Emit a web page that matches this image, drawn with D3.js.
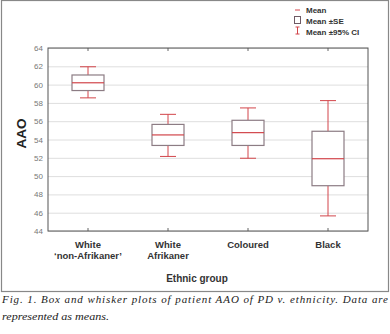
<!DOCTYPE html>
<html>
<head>
<meta charset="utf-8">
<script src="https://cdn.jsdelivr.net/npm/d3@7"></script>
<style>
  body { margin: 0; background: #fff; }
  svg { display: block; }
  .grid line { stroke: #dedede; stroke-width: 1; }
  .grid path { display: none; }
  .yaxis path { display: none; }
  .yaxis line { display: none; }
  .yaxis text { fill: #777; font-family: "Liberation Sans", Arial, sans-serif; font-size: 8px; }
  .xaxis path { display: none; }
  .xaxis line { stroke: #666; }
</style>
</head>
<body>
<div id="chart"></div>
<script>
// data
var groups = ["White|\u2018non-Afrikaner\u2019", "White|Afrikaner", "Coloured", "Black"];
var means = [60.2, 54.5, 54.75, 51.9];
var seLow = [59.35, 53.35, 53.35, 48.95];
var seHigh = [61.05, 55.65, 56.1, 54.9];
var ciLow = [58.55, 52.15, 51.95, 45.65];
var ciHigh = [61.95, 56.75, 57.45, 58.25];
var yTicks = [44, 46, 48, 50, 52, 54, 56, 58, 60, 62, 64];

var margin = { top: 48, right: 22, bottom: 103, left: 48 },
    width = 390 - margin.left - margin.right,
    height = 334 - margin.top - margin.bottom;

var boxColor = "#8c7c84";
var redColor = "#d2454a";
var labelFont = "'Liberation Sans', Arial, sans-serif";

var root = d3.select("#chart")
    .append("svg")
    .attr("width", 390)
    .attr("height", 334);

// outer frame of the figure
root.append("rect")
    .attr("x", 1.5)
    .attr("y", 0.5)
    .attr("width", 387)
    .attr("height", 291)
    .attr("fill", "none")
    .attr("stroke", "#888")
    .attr("stroke-width", 1.2);

var svg = root.append("g")
    .attr("transform", "translate(" + margin.left + "," + margin.top + ")");

var x = d3.scaleBand()
    .domain(groups)
    .range([0, width]);

var y = d3.scaleLinear()
    .domain([44, 64])
    .range([height, 0]);

// horizontal gridlines
svg.append("g")
    .attr("class", "grid")
    .call(d3.axisLeft(y)
        .tickValues(yTicks)
        .tickSize(-width)
        .tickFormat("")
    );

// y axis labels
svg.append("g")
    .attr("class", "yaxis")
    .call(d3.axisLeft(y).tickValues(yTicks).tickSize(0).tickPadding(5));

// small ticks at top and bottom of the plot
svg.append("g")
    .attr("class", "xaxis")
    .attr("transform", "translate(0," + height + ")")
    .call(d3.axisBottom(x).tickSize(-3).tickFormat(""));
svg.append("g")
    .attr("class", "xaxis")
    .call(d3.axisTop(x).tickSize(-3).tickFormat(""));

// plot frame
svg.append("rect")
    .attr("width", width)
    .attr("height", height)
    .attr("fill", "none")
    .attr("stroke", "#555")
    .attr("stroke-width", 1);

// category labels, one text per line
groups.forEach(function (g) {
    g.split("|").forEach(function (l, j) {
        svg.append("text")
            .attr("x", x(g) + x.bandwidth() / 2)
            .attr("y", height + 17 + j * 11)
            .attr("text-anchor", "middle")
            .attr("font-family", labelFont)
            .attr("font-size", "9.5px")
            .attr("font-weight", "bold")
            .attr("fill", "#333")
            .text(l);
    });
});

var boxW = x.bandwidth() * 0.4;
var capW = x.bandwidth() * 0.2;

var items = groups.map(function (g, i) {
    return { g: g, mean: means[i], seL: seLow[i], seH: seHigh[i], ciL: ciLow[i], ciH: ciHigh[i] };
});

var box = svg.selectAll(".boxgroup")
    .data(items)
    .enter()
    .append("g")
    .attr("class", "boxgroup")
    .attr("transform", function (d) { return "translate(" + (x(d.g) + x.bandwidth() / 2) + ",0)"; });

// whiskers
box.append("line")
    .attr("x1", 0).attr("x2", 0)
    .attr("y1", function (d) { return y(d.ciH); })
    .attr("y2", function (d) { return y(d.seH); })
    .attr("stroke", redColor);
box.append("line")
    .attr("x1", 0).attr("x2", 0)
    .attr("y1", function (d) { return y(d.seL); })
    .attr("y2", function (d) { return y(d.ciL); })
    .attr("stroke", redColor);
box.append("line")
    .attr("x1", -capW / 2).attr("x2", capW / 2)
    .attr("y1", function (d) { return y(d.ciH); })
    .attr("y2", function (d) { return y(d.ciH); })
    .attr("stroke", redColor);
box.append("line")
    .attr("x1", -capW / 2).attr("x2", capW / 2)
    .attr("y1", function (d) { return y(d.ciL); })
    .attr("y2", function (d) { return y(d.ciL); })
    .attr("stroke", redColor);

// SE boxes
box.append("rect")
    .attr("x", -boxW / 2)
    .attr("width", boxW)
    .attr("y", function (d) { return y(d.seH); })
    .attr("height", function (d) { return y(d.seL) - y(d.seH); })
    .attr("fill", "#fff")
    .attr("stroke", boxColor)
    .attr("stroke-width", 1.2);

// mean lines
box.append("line")
    .attr("x1", -boxW / 2).attr("x2", boxW / 2)
    .attr("y1", function (d) { return y(d.mean); })
    .attr("y2", function (d) { return y(d.mean); })
    .attr("stroke", redColor)
    .attr("stroke-width", 1.2);

// axis titles
svg.append("text")
    .attr("transform", "rotate(-90)")
    .attr("x", -height / 2 + 6)
    .attr("y", -22)
    .attr("text-anchor", "middle")
    .attr("font-family", labelFont)
    .attr("font-size", "13.5px")
    .attr("font-weight", "bold")
    .attr("fill", "#222")
    .text("AAO");

svg.append("text")
    .attr("x", width / 2 - 11)
    .attr("y", height + 51)
    .attr("text-anchor", "middle")
    .attr("font-family", labelFont)
    .attr("font-size", "10px")
    .attr("font-weight", "bold")
    .attr("fill", "#333")
    .text("Ethnic group");

// legend
var legend = root.append("g")
    .attr("transform", "translate(296,0)");
legend.append("line")
    .attr("x1", -1).attr("x2", 4).attr("y1", 10).attr("y2", 10)
    .attr("stroke", redColor);
legend.append("rect")
    .attr("x", -1.5).attr("y", 16.5).attr("width", 6).attr("height", 7)
    .attr("fill", "none").attr("stroke", "#6e5a64");
legend.append("line")
    .attr("x1", 1.5).attr("x2", 1.5).attr("y1", 27).attr("y2", 34)
    .attr("stroke", redColor);
legend.append("line")
    .attr("x1", -0.5).attr("x2", 3.5).attr("y1", 27).attr("y2", 27)
    .attr("stroke", redColor);
legend.append("line")
    .attr("x1", -0.5).attr("x2", 3.5).attr("y1", 34).attr("y2", 34)
    .attr("stroke", redColor);
["Mean", "Mean \u00b1SE", "Mean \u00b195% CI"].forEach(function (s, i) {
    legend.append("text")
        .attr("x", 10)
        .attr("y", 12.5 + i * 11)
        .attr("font-family", labelFont)
        .attr("font-size", "8px")
        .attr("font-weight", "bold")
        .attr("fill", "#333")
        .text(s);
});

// caption
var capFont = "'Liberation Serif', 'DejaVu Serif', serif";
root.append("text")
    .attr("x", 2).attr("y", 303)
    .attr("font-family", capFont)
    .attr("font-size", "11px")
    .attr("font-style", "italic")
    .attr("fill", "#222")
    .attr("textLength", 386)
    .attr("lengthAdjust", "spacing")
    .text("Fig. 1. Box and whisker plots of patient AAO of PD v. ethnicity. Data are");
root.append("text")
    .attr("x", 2).attr("y", 320)
    .attr("font-family", capFont)
    .attr("font-size", "11px")
    .attr("font-style", "italic")
    .attr("fill", "#222")
    .attr("textLength", 107)
    .attr("lengthAdjust", "spacingAndGlyphs")
    .text("represented as means.");
</script>
</body>
</html>
